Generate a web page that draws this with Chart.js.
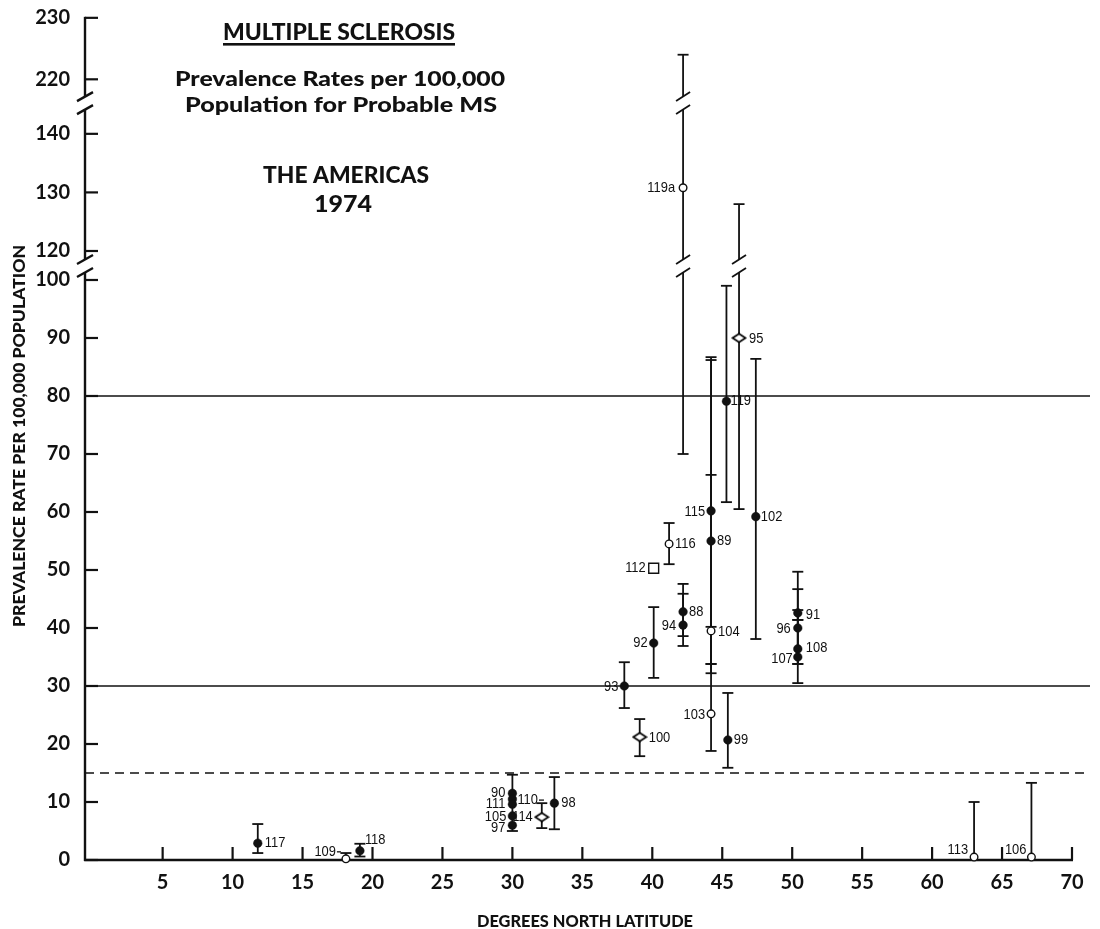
<!DOCTYPE html>
<html>
<head>
<meta charset="utf-8">
<title>Multiple Sclerosis prevalence, the Americas 1974</title>
<script src="https://cdn.jsdelivr.net/npm/chart.js@4.4.1/dist/chart.umd.min.js"></script>
<style>
  html, body { margin: 0; padding: 0; background: #fff; }
  #wrap { width: 1100px; height: 929px; }
</style>
</head>
<body>
<div id="wrap"><canvas id="msChart" width="1100" height="929"></canvas></div>
<script>
// ---- Survey data: study number, latitude (deg N), prevalence per 100,000 and its limits ----
const studyIds = ['117','109','118','90','110','111','105','97','114','98','93','100','92','112','116','94','88','119a','104','103','89','115','119','99','95','102','96','91','108','107','113','106'];
const latitude = [11.8, 18.1, 19.1, 30, 30, 30, 30, 30, 32.1, 33.0, 38.0, 39.1, 40.1, 40.1, 41.2, 42.2, 42.2, 42.2, 44.2, 44.2, 44.2, 44.2, 45.3, 45.4, 46.2, 47.4, 50.4, 50.4, 50.4, 50.4, 63.0, 67.1];
const prevalence = [2.9, 0.2, 1.6, 11.5, 10.5, 9.6, 7.6, 6.0, 7.4, 9.8, 30.0, 21.2, 37.4, 50.3, 54.5, 40.5, 42.8, 130.8, 39.5, 25.2, 55.0, 60.2, 79.1, 20.7, 90.0, 59.2, 40.0, 42.6, 36.4, 35.0, 0.5, 0.5];
const lowerLimit = [1.2, null, 0.6, 5.0, null, null, null, null, 5.5, 5.3, 26.2, 17.9, 31.4, null, 51.0, 36.9, 38.6, 70.0, 33.8, 18.8, 32.2, 33.8, 61.7, 15.9, 60.5, 38.1, 33.8, 41.4, 30.5, 33.8, null, null];
const upperLimit = [6.2, 1.2, 2.8, 14.7, null, null, null, null, 9.8, 14.3, 34.1, 24.3, 43.6, null, 58.1, 45.9, 47.6, 224, 66.4, 40.2, 86.2, 86.7, 99.0, 28.8, 128, 86.4, 46.7, 49.7, 43.1, 41.4, 10.0, 13.3];

const xTickLabels = [5, 10, 15, 20, 25, 30, 35, 40, 45, 50, 55, 60, 65, 70];
const yTickLabels = [0, 10, 20, 30, 40, 50, 60, 70, 80, 90, 100, 120, 130, 140, 220, 230];
const referenceLines = [80, 30];
const thresholdLine = 15;

// ---- Broken y axis: real values -> compressed axis units ----
const realKnots = [0, 100, 120, 140, 220, 230];
const axisKnots = [0, 100, 105, 125.2, 134.6, 145.2];
const axisBreaks = [102.4, 130.5];   // axis units where the scale is cut

function toAxis(v) {
  for (let k = 1; k < realKnots.length; k++) {
    if (v <= realKnots[k] || k === realKnots.length - 1) {
      const r0 = realKnots[k - 1], r1 = realKnots[k];
      const a0 = axisKnots[k - 1], a1 = axisKnots[k];
      return a0 + (v - r0) * (a1 - a0) / (r1 - r0);
    }
  }
}

// ---- Marker classes and label placement ----
const openCircleIds = new Set(['109', '116', '119a', '104', '103', '113', '106']);
const diamondIds = new Set(['114', '100', '95']);
const squareIds = new Set(['112']);

// [dx, dy] from the marker centre; negative dx puts the label on the left
const labelOffsets = {
  '117': [7, 0], '109': [-10, -7], '118': [5, -11], '90': [-7, 0], '110': [5, 1],
  '111': [-7, 0], '105': [-6, 1], '97': [-7, 3], '114': [-9, 0], '98': [7, 0],
  '93': [-6, 1], '100': [9, 1], '92': [-6, 0], '112': [-8, 0], '116': [6, 0],
  '94': [-7, 1], '88': [6, 0], '119a': [-8, 0], '104': [7, 1], '103': [-6, 1],
  '89': [6, 0], '115': [-6, 1], '119': [4, 0], '99': [6, 0], '95': [10, 1],
  '102': [5, 0], '96': [-7, 1], '91': [8, 2], '108': [8, -1], '107': [-5, 2],
  '113': [-6, -7], '106': [-5, -7]
};
const labelLeaders = { '109': 5, '110': 6 };

// flattened open diamond marker
function diamondMarker() {
  const c = document.createElement('canvas');
  c.width = 16; c.height = 11;
  const g = c.getContext('2d');
  g.beginPath();
  g.moveTo(1.5, 5.5); g.lineTo(8, 1.2); g.lineTo(14.5, 5.5); g.lineTo(8, 9.8); g.closePath();
  g.fillStyle = '#fff'; g.fill();
  g.lineWidth = 1.7; g.strokeStyle = '#000'; g.stroke();
  return c;
}

function pointsOf(test) {
  const out = [];
  studyIds.forEach((id, i) => {
    if (test(id)) out.push({ x: latitude[i], y: toAxis(prevalence[i]), id });
  });
  return out;
}

const filledPts = pointsOf(id => !openCircleIds.has(id) && !diamondIds.has(id) && !squareIds.has(id));
const openPts = pointsOf(id => openCircleIds.has(id));
const diamondPts = pointsOf(id => diamondIds.has(id));
const squarePts = pointsOf(id => squareIds.has(id));

function seg(ctx, x1, y1, x2, y2) {
  ctx.beginPath(); ctx.moveTo(x1, y1); ctx.lineTo(x2, y2); ctx.stroke();
}
function slash(ctx, x, y, w) {
  seg(ctx, x - w, y + 4.5, x + w, y - 4.5);
}
// vertical line from yTop to yBot (pixels), cut with double slashes at break pixels
function brokenVLine(ctx, x, yTop, yBot, breaksPx, slashW) {
  const gap = 6.5;
  let cur = yTop;
  breaksPx.filter(b => b > yTop + gap && b < yBot - gap).sort((a, b) => a - b).forEach(b => {
    seg(ctx, x, cur, x, b - gap);
    slash(ctx, x, b - gap, slashW);
    slash(ctx, x, b + gap, slashW);
    cur = b + gap;
  });
  seg(ctx, x, cur, x, yBot);
}

const framePlugin = {
  id: 'frame',
  beforeDatasetsDraw(chart) {
    const { ctx, chartArea } = chart;
    const xs = chart.scales.x, ys = chart.scales.y;
    const breaksPx = axisBreaks.map(b => ys.getPixelForValue(b));
    const x0 = chartArea.left;
    const y0 = ys.getPixelForValue(0);
    ctx.save();
    ctx.strokeStyle = '#111';
    ctx.lineCap = 'butt';

    // horizontal reference lines
    ctx.lineWidth = 1.6;
    referenceLines.forEach(v => {
      const y = ys.getPixelForValue(toAxis(v));
      seg(ctx, x0, y, chart.width - 10, y);
    });
    ctx.setLineDash([9, 6]);
    ctx.lineWidth = 1.4;
    const yT = ys.getPixelForValue(toAxis(thresholdLine));
    seg(ctx, x0, yT, chart.width - 14, yT);
    ctx.setLineDash([]);

    // y axis with breaks and inward ticks
    ctx.lineWidth = 2.4;
    const yTop = ys.getPixelForValue(toAxis(yTickLabels[yTickLabels.length - 1]));
    brokenVLine(ctx, x0, yTop - 1, y0 + 1, breaksPx, 8);
    ctx.lineWidth = 2.2;
    yTickLabels.forEach(v => {
      const y = ys.getPixelForValue(toAxis(v));
      seg(ctx, x0, y, x0 + 13, y);
    });

    // x axis with upward ticks
    ctx.lineWidth = 2.4;
    seg(ctx, x0 - 1, y0, xs.getPixelForValue(xTickLabels[xTickLabels.length - 1]) + 1, y0);
    ctx.lineWidth = 2.2;
    xTickLabels.forEach(v => {
      const x = xs.getPixelForValue(v);
      seg(ctx, x, y0, x, y0 - 13);
    });

    // error bars
    ctx.lineWidth = 1.8;
    const cap = 5.5;
    studyIds.forEach((id, i) => {
      const x = xs.getPixelForValue(latitude[i]);
      const yp = ys.getPixelForValue(toAxis(prevalence[i]));
      if (upperLimit[i] != null) {
        const yU = ys.getPixelForValue(toAxis(upperLimit[i]));
        brokenVLine(ctx, x, yU, yp, breaksPx, 7);
        seg(ctx, x - cap, yU, x + cap, yU);
      }
      if (lowerLimit[i] != null) {
        const yL = ys.getPixelForValue(toAxis(lowerLimit[i]));
        brokenVLine(ctx, x, yp, yL, breaksPx, 7);
        seg(ctx, x - cap, yL, x + cap, yL);
      }
    });
    ctx.restore();
  },
  afterDatasetsDraw(chart) {
    const { ctx } = chart;
    const xs = chart.scales.x, ys = chart.scales.y;
    const squeeze = 0.86;   // condensed study numbers
    ctx.save();
    ctx.fillStyle = '#111';
    ctx.strokeStyle = '#111';
    ctx.lineWidth = 1.3;
    ctx.font = '15px "Liberation Sans", Arial, sans-serif';
    ctx.textBaseline = 'middle';
    studyIds.forEach((id, i) => {
      const x = xs.getPixelForValue(latitude[i]);
      const y = ys.getPixelForValue(toAxis(prevalence[i]));
      const [dx, dy] = labelOffsets[id] || [7, 0];
      const lx = x + dx, ly = y + dy;
      const w = ctx.measureText(id).width * squeeze;
      ctx.save();
      ctx.translate(lx, ly);
      ctx.scale(squeeze, 1);
      ctx.textAlign = dx < 0 ? 'right' : 'left';
      ctx.fillText(id, 0, 0);
      ctx.restore();
      const lead = labelLeaders[id];
      if (lead) {
        if (dx < 0) seg(ctx, lx + 1, ly, lx + lead, ly);
        else seg(ctx, lx + w + 1, ly, lx + w + lead, ly);
      }
    });
    ctx.restore();
  },
  afterDraw(chart) {
    const { ctx } = chart;
    ctx.save();
    ctx.fillStyle = '#111';
    const fitted = (text, cx, baseline, font, width) => {
      ctx.font = font;
      const w = ctx.measureText(text).width;
      ctx.save();
      ctx.translate(cx, baseline);
      ctx.scale(width / w, 1);
      ctx.textAlign = 'center';
      ctx.textBaseline = 'alphabetic';
      ctx.fillText(text, 0, 0);
      ctx.restore();
    };
    const bold = s => `900 ${s}px Lato, "DejaVu Sans", sans-serif`;
    fitted('MULTIPLE SCLEROSIS', 339, 40, bold(23), 232);
    ctx.fillRect(223, 43, 232, 2.6);
    fitted('Prevalence Rates per 100,000', 340, 86, bold(20), 330);
    fitted('Population for Probable MS', 341, 112, bold(20), 312);
    fitted('THE AMERICAS', 346, 183, bold(22), 166);
    fitted('1974', 343, 212, bold(22), 58);

    // axis titles
    fitted('DEGREES NORTH LATITUDE', 585, 927, bold(16), 216);
    ctx.save();
    ctx.translate(25, 436);
    ctx.rotate(-Math.PI / 2);
    fitted('PREVALENCE RATE PER 100,000 POPULATION', 0, 0, bold(16), 382);
    ctx.restore();
    ctx.restore();
  }
};

const tickFont = { family: 'Lato, "DejaVu Sans", sans-serif', weight: 'bold', size: 20 };

new Chart(document.getElementById('msChart'), {
  type: 'scatter',
  data: {
    datasets: [
      { data: openPts, pointStyle: 'circle', pointRadius: 3.8, backgroundColor: '#fff', borderColor: '#111', borderWidth: 1.4, clip: false },
      { data: diamondPts, pointStyle: diamondMarker(), pointRadius: 7, clip: false },
      { data: squarePts, pointStyle: 'rect', pointRadius: 7, backgroundColor: '#fff', borderColor: '#111', borderWidth: 1.4, clip: false },
      { data: filledPts, pointStyle: 'circle', pointRadius: 4.3, backgroundColor: '#111', borderColor: '#111', borderWidth: 0.5, clip: false }
    ]
  },
  options: {
    responsive: false,
    animation: false,
    events: [],
    layout: { padding: { left: 0, right: 28, top: 10, bottom: 0 } },
    plugins: { legend: { display: false }, tooltip: { enabled: false } },
    scales: {
      x: {
        type: 'linear', min: -0.55, max: 70,
        grid: { display: false, drawTicks: false }, border: { display: false },
        afterBuildTicks: s => { s.ticks = xTickLabels.map(v => ({ value: v })); },
        afterFit: s => { s.height = 69; s.paddingLeft = 0; s.paddingRight = 0; },
        ticks: { autoSkip: false, maxRotation: 0, padding: 11, font: tickFont, color: '#111',
                 callback: (v, i) => xTickLabels[i] }
      },
      y: {
        type: 'linear', min: 0, max: 146.55,
        grid: { display: false, drawTicks: false }, border: { display: false },
        afterBuildTicks: s => { s.ticks = yTickLabels.map(v => ({ value: toAxis(v) })); },
        afterFit: s => { s.width = 85; s.paddingTop = 0; s.paddingBottom = 0; },
        ticks: { autoSkip: false, padding: 15, font: tickFont, color: '#111',
                 callback: (v, i) => yTickLabels[i] }
      }
    }
  },
  plugins: [framePlugin]
});
</script>
</body>
</html>
